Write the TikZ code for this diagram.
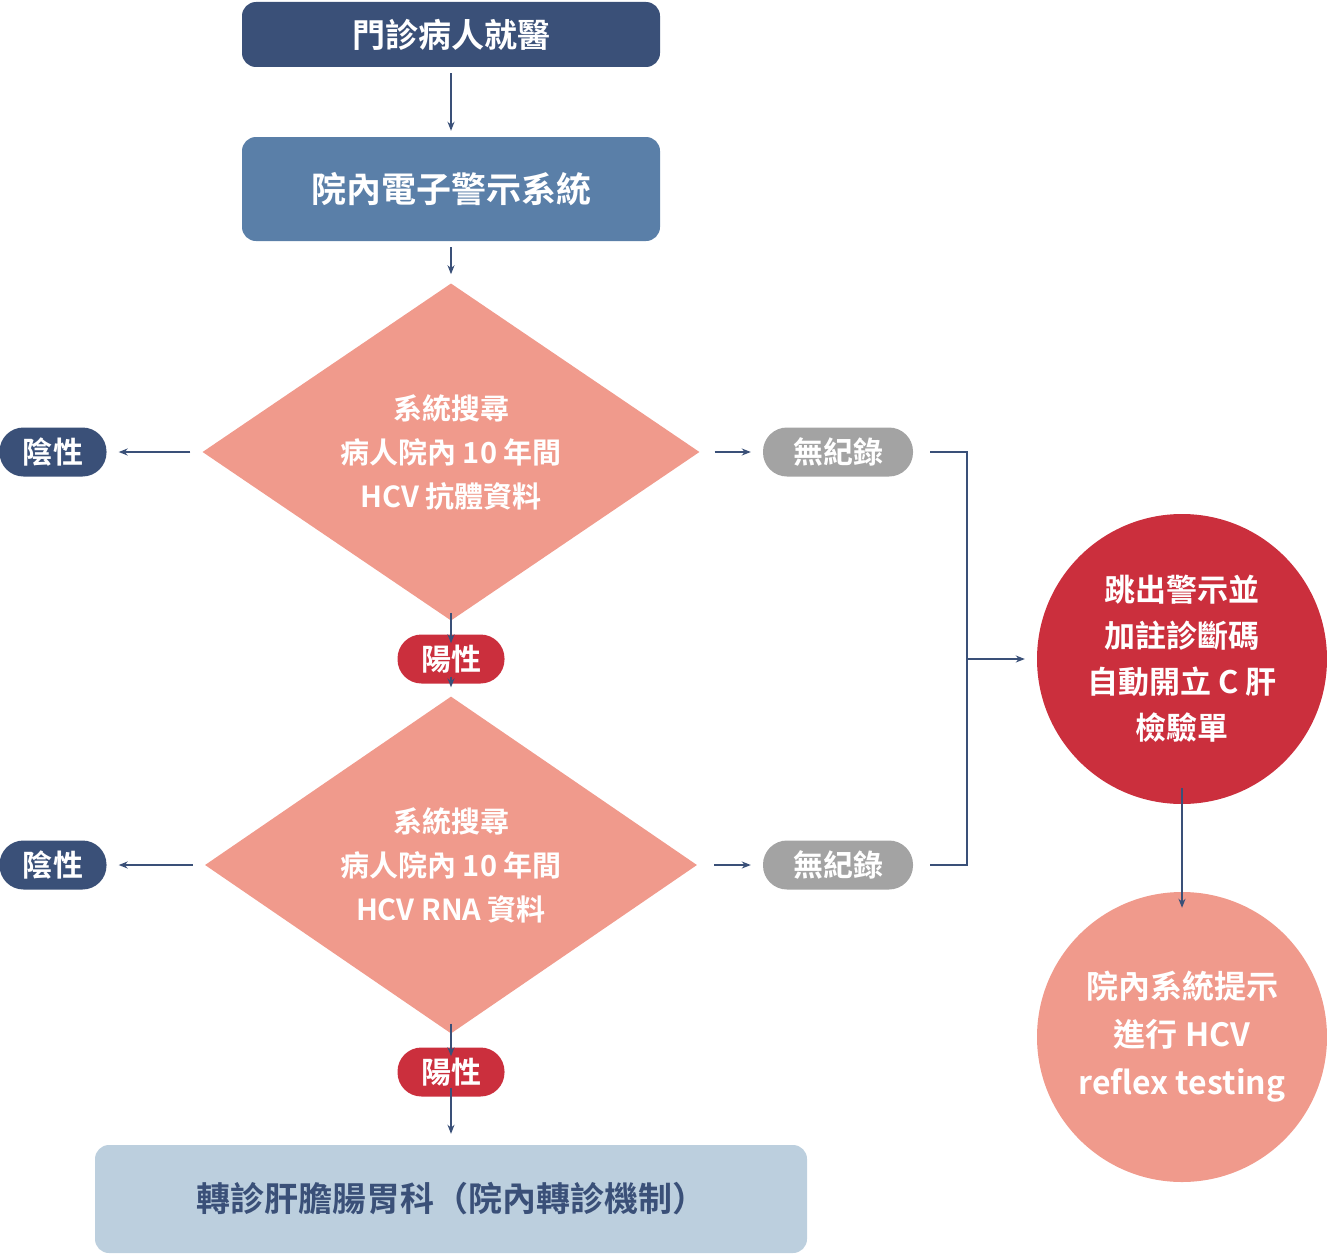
\documentclass[tikz,border=0pt]{standalone}
\usepackage{fontspec}
\setmainfont{Noto Sans CJK TC}[BoldFont={* Bold}]
\usetikzlibrary{shapes.geometric,arrows.meta}
\definecolor{navy}{HTML}{3A5078}
\definecolor{steel}{HTML}{5A7FA8}
\definecolor{salmon}{HTML}{F09A8C}
\definecolor{grayp}{HTML}{A3A3A3}
\definecolor{redp}{HTML}{CB2F3D}
\definecolor{pale}{HTML}{BCCFDE}
\begin{document}
\begin{tikzpicture}[x=1pt,y=-1pt,
 every node/.style={font=\bfseries},
 box/.style={rounded corners=14pt,inner sep=0pt,text=white},
 dia/.style={diamond,fill=salmon,text=white,inner sep=0pt,align=center,font=\bfseries\fontsize{29}{44}\selectfont},
 pill/.style={rounded corners=24pt,minimum height=49pt,inner sep=0pt,text=white,font=\bfseries\fontsize{30}{36}\selectfont},
 circ/.style={circle,minimum size=290pt,inner sep=0pt,align=center,text=white,font=\bfseries\fontsize{31}{46}\selectfont},
 arr/.style={draw=navy,line width=1.5pt,-{Stealth[length=9pt,width=7pt]}}]
\useasboundingbox (0,0) rectangle (1327,1255);
\node[box,fill=navy,minimum width=418pt,minimum height=65pt,font=\bfseries\fontsize{33}{40}\selectfont] (a) at (451,34.5) {門診病人就醫};
\node[box,fill=steel,minimum width=418pt,minimum height=104pt,font=\bfseries\fontsize{35}{40}\selectfont] (b) at (451,189) {院內電子警示系統};
\node[dia,minimum width=497pt,minimum height=275pt] (d1) at (451,452) {系統搜尋\\病人院內 10 年間\\HCV 抗體資料};
\node[dia,minimum width=492pt,minimum height=274pt] (d2) at (451,865) {系統搜尋\\病人院內 10 年間\\HCV RNA 資料};
\node[pill,fill=navy,minimum width=107pt] (n1) at (53,452) {陰性};
\node[pill,fill=navy,minimum width=107pt] (n2) at (53,865) {陰性};
\node[pill,fill=grayp,minimum width=150pt] (g1) at (838,452) {無紀錄};
\node[pill,fill=grayp,minimum width=150pt] (g2) at (838,865) {無紀錄};
\node[pill,fill=redp,minimum width=107pt] (p1) at (451,659) {陽性};
\node[pill,fill=redp,minimum width=107pt] (p2) at (451,1072) {陽性};
\node[box,fill=pale,text=navy,minimum width=712pt,minimum height=108pt,font=\bfseries\fontsize{34}{40}\selectfont] (e) at (451,1199) {轉診肝膽腸胃科（院內轉診機制）};
\node[circ,fill=redp] (c1) at (1182,659) {跳出警示並\\加註診斷碼\\自動開立 C 肝\\檢驗單};
\node[circ,fill=salmon,font=\bfseries\fontsize{32}{48}\selectfont] (c2) at (1182,1037) {院內系統提示\\進行 HCV\\reflex testing};
\coordinate (j) at (967,659);
\draw[arr] ([yshift=-6pt]a.south) -- ([yshift=6pt]b.north);
\draw[arr] ([yshift=-6pt]b.south) -- ([yshift=9pt]d1.north);
\draw[arr] ([xshift=-12pt]d1.west) -- ([xshift=12pt]n1.east);
\draw[arr] ([xshift=-12pt]d2.west) -- ([xshift=12pt]n2.east);
\draw[arr] ([xshift=15pt]d1.east) -- ([xshift=-12pt]g1.west);
\draw[arr] ([xshift=17pt]d2.east) -- ([xshift=-12pt]g2.west);
\draw[arr] ([yshift=8pt]d1.south) -- ([yshift=-9pt]p1.north);
\draw[arr] ([yshift=7pt]p1.south) -- ([yshift=9pt]d2.north);
\draw[arr] ([yshift=10pt]d2.south) -- ([yshift=-9pt]p2.north);
\draw[arr] ([yshift=9pt]p2.south) -- ([yshift=11pt]e.north);
\draw[navy,line width=1.5pt] ([xshift=17pt]g1.east) -| (j) |- ([xshift=17pt]g2.east);
\draw[arr] (j) -- ([xshift=-12pt]c1.west);
\draw[arr] ([yshift=16pt]c1.south) -- ([yshift=-16pt]c2.north);
\end{tikzpicture}
\end{document}
